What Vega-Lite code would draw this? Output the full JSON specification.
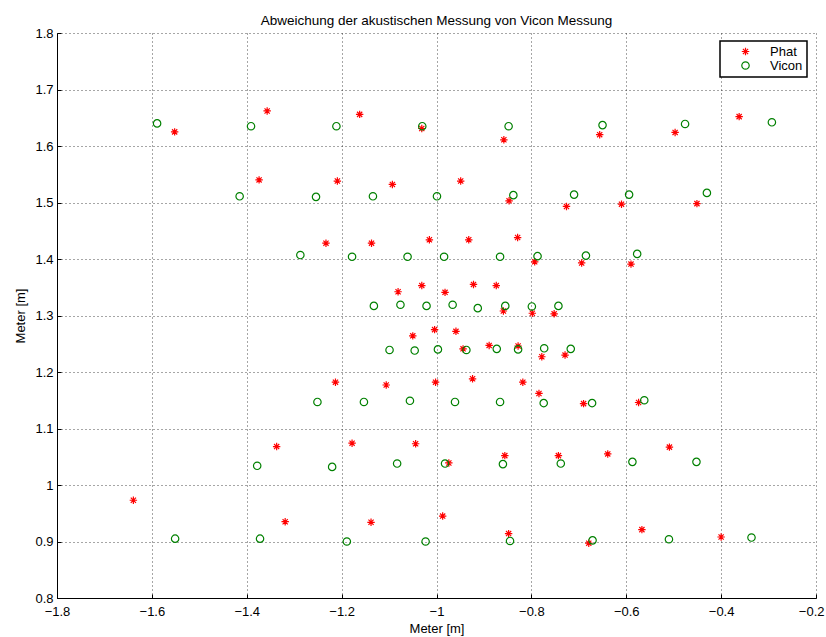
{
  "$schema": "https://vega.github.io/schema/vega-lite/v6.json",
  "width": 759,
  "height": 565,
  "autosize": "none",
  "padding": {"left": 57, "top": 33, "right": 10, "bottom": 39},
  "background": "white",
  "title": {
    "text": "Abweichung der akustischen Messung von Vicon Messung",
    "font": "Liberation Sans",
    "fontSize": 13.5,
    "fontWeight": "normal",
    "color": "black",
    "anchor": "middle",
    "offset": 0
  },
  "data": {
    "values": [
      {"x": -1.552, "y": 1.625, "series": "Phat"},
      {"x": -1.357, "y": 1.662, "series": "Phat"},
      {"x": -1.162, "y": 1.656, "series": "Phat"},
      {"x": -1.031, "y": 1.631, "series": "Phat"},
      {"x": -0.858, "y": 1.611, "series": "Phat"},
      {"x": -0.656, "y": 1.620, "series": "Phat"},
      {"x": -0.497, "y": 1.624, "series": "Phat"},
      {"x": -0.362, "y": 1.652, "series": "Phat"},
      {"x": -1.374, "y": 1.540, "series": "Phat"},
      {"x": -1.209, "y": 1.538, "series": "Phat"},
      {"x": -1.093, "y": 1.532, "series": "Phat"},
      {"x": -0.949, "y": 1.538, "series": "Phat"},
      {"x": -0.847, "y": 1.503, "series": "Phat"},
      {"x": -0.726, "y": 1.493, "series": "Phat"},
      {"x": -0.610, "y": 1.497, "series": "Phat"},
      {"x": -0.451, "y": 1.498, "series": "Phat"},
      {"x": -1.233, "y": 1.428, "series": "Phat"},
      {"x": -1.137, "y": 1.428, "series": "Phat"},
      {"x": -1.015, "y": 1.434, "series": "Phat"},
      {"x": -0.932, "y": 1.434, "series": "Phat"},
      {"x": -0.829, "y": 1.438, "series": "Phat"},
      {"x": -0.793, "y": 1.395, "series": "Phat"},
      {"x": -0.694, "y": 1.393, "series": "Phat"},
      {"x": -0.590, "y": 1.391, "series": "Phat"},
      {"x": -1.081, "y": 1.342, "series": "Phat"},
      {"x": -1.031, "y": 1.353, "series": "Phat"},
      {"x": -0.982, "y": 1.341, "series": "Phat"},
      {"x": -0.922, "y": 1.355, "series": "Phat"},
      {"x": -0.874, "y": 1.353, "series": "Phat"},
      {"x": -0.859, "y": 1.308, "series": "Phat"},
      {"x": -0.798, "y": 1.304, "series": "Phat"},
      {"x": -0.752, "y": 1.303, "series": "Phat"},
      {"x": -1.050, "y": 1.264, "series": "Phat"},
      {"x": -1.004, "y": 1.275, "series": "Phat"},
      {"x": -0.959, "y": 1.272, "series": "Phat"},
      {"x": -0.944, "y": 1.241, "series": "Phat"},
      {"x": -0.889, "y": 1.247, "series": "Phat"},
      {"x": -0.828, "y": 1.246, "series": "Phat"},
      {"x": -0.778, "y": 1.227, "series": "Phat"},
      {"x": -0.729, "y": 1.230, "series": "Phat"},
      {"x": -1.213, "y": 1.182, "series": "Phat"},
      {"x": -1.106, "y": 1.177, "series": "Phat"},
      {"x": -1.002, "y": 1.182, "series": "Phat"},
      {"x": -0.924, "y": 1.188, "series": "Phat"},
      {"x": -0.818, "y": 1.182, "series": "Phat"},
      {"x": -0.784, "y": 1.162, "series": "Phat"},
      {"x": -0.690, "y": 1.144, "series": "Phat"},
      {"x": -0.574, "y": 1.146, "series": "Phat"},
      {"x": -1.337, "y": 1.068, "series": "Phat"},
      {"x": -1.178, "y": 1.074, "series": "Phat"},
      {"x": -1.044, "y": 1.073, "series": "Phat"},
      {"x": -0.974, "y": 1.039, "series": "Phat"},
      {"x": -0.856, "y": 1.052, "series": "Phat"},
      {"x": -0.743, "y": 1.052, "series": "Phat"},
      {"x": -0.639, "y": 1.055, "series": "Phat"},
      {"x": -0.509, "y": 1.067, "series": "Phat"},
      {"x": -1.639, "y": 0.973, "series": "Phat"},
      {"x": -1.319, "y": 0.935, "series": "Phat"},
      {"x": -1.138, "y": 0.934, "series": "Phat"},
      {"x": -0.987, "y": 0.945, "series": "Phat"},
      {"x": -0.848, "y": 0.914, "series": "Phat"},
      {"x": -0.679, "y": 0.897, "series": "Phat"},
      {"x": -0.567, "y": 0.921, "series": "Phat"},
      {"x": -0.400, "y": 0.908, "series": "Phat"},

      {"x": -1.589, "y": 1.640, "series": "Vicon"},
      {"x": -1.391, "y": 1.635, "series": "Vicon"},
      {"x": -1.211, "y": 1.635, "series": "Vicon"},
      {"x": -1.030, "y": 1.635, "series": "Vicon"},
      {"x": -0.848, "y": 1.635, "series": "Vicon"},
      {"x": -0.650, "y": 1.637, "series": "Vicon"},
      {"x": -0.476, "y": 1.639, "series": "Vicon"},
      {"x": -0.293, "y": 1.642, "series": "Vicon"},
      {"x": -1.415, "y": 1.511, "series": "Vicon"},
      {"x": -1.254, "y": 1.510, "series": "Vicon"},
      {"x": -1.134, "y": 1.511, "series": "Vicon"},
      {"x": -0.999, "y": 1.511, "series": "Vicon"},
      {"x": -0.838, "y": 1.513, "series": "Vicon"},
      {"x": -0.710, "y": 1.514, "series": "Vicon"},
      {"x": -0.594, "y": 1.514, "series": "Vicon"},
      {"x": -0.430, "y": 1.517, "series": "Vicon"},
      {"x": -1.287, "y": 1.407, "series": "Vicon"},
      {"x": -1.178, "y": 1.404, "series": "Vicon"},
      {"x": -1.061, "y": 1.404, "series": "Vicon"},
      {"x": -0.984, "y": 1.404, "series": "Vicon"},
      {"x": -0.866, "y": 1.404, "series": "Vicon"},
      {"x": -0.787, "y": 1.405, "series": "Vicon"},
      {"x": -0.685, "y": 1.406, "series": "Vicon"},
      {"x": -0.577, "y": 1.409, "series": "Vicon"},
      {"x": -1.132, "y": 1.317, "series": "Vicon"},
      {"x": -1.076, "y": 1.319, "series": "Vicon"},
      {"x": -1.021, "y": 1.317, "series": "Vicon"},
      {"x": -0.966, "y": 1.319, "series": "Vicon"},
      {"x": -0.913, "y": 1.313, "series": "Vicon"},
      {"x": -0.855, "y": 1.317, "series": "Vicon"},
      {"x": -0.799, "y": 1.316, "series": "Vicon"},
      {"x": -0.743, "y": 1.317, "series": "Vicon"},
      {"x": -1.099, "y": 1.239, "series": "Vicon"},
      {"x": -1.046, "y": 1.238, "series": "Vicon"},
      {"x": -0.997, "y": 1.240, "series": "Vicon"},
      {"x": -0.937, "y": 1.239, "series": "Vicon"},
      {"x": -0.873, "y": 1.241, "series": "Vicon"},
      {"x": -0.828, "y": 1.240, "series": "Vicon"},
      {"x": -0.773, "y": 1.242, "series": "Vicon"},
      {"x": -0.717, "y": 1.241, "series": "Vicon"},
      {"x": -1.251, "y": 1.147, "series": "Vicon"},
      {"x": -1.153, "y": 1.147, "series": "Vicon"},
      {"x": -1.056, "y": 1.149, "series": "Vicon"},
      {"x": -0.961, "y": 1.147, "series": "Vicon"},
      {"x": -0.866, "y": 1.147, "series": "Vicon"},
      {"x": -0.774, "y": 1.145, "series": "Vicon"},
      {"x": -0.672, "y": 1.145, "series": "Vicon"},
      {"x": -0.562, "y": 1.150, "series": "Vicon"},
      {"x": -1.378, "y": 1.034, "series": "Vicon"},
      {"x": -1.220, "y": 1.032, "series": "Vicon"},
      {"x": -1.083, "y": 1.038, "series": "Vicon"},
      {"x": -0.982, "y": 1.038, "series": "Vicon"},
      {"x": -0.860, "y": 1.037, "series": "Vicon"},
      {"x": -0.738, "y": 1.038, "series": "Vicon"},
      {"x": -0.587, "y": 1.041, "series": "Vicon"},
      {"x": -0.452, "y": 1.041, "series": "Vicon"},
      {"x": -1.551, "y": 0.905, "series": "Vicon"},
      {"x": -1.372, "y": 0.905, "series": "Vicon"},
      {"x": -1.189, "y": 0.900, "series": "Vicon"},
      {"x": -1.023, "y": 0.900, "series": "Vicon"},
      {"x": -0.845, "y": 0.901, "series": "Vicon"},
      {"x": -0.671, "y": 0.902, "series": "Vicon"},
      {"x": -0.510, "y": 0.904, "series": "Vicon"},
      {"x": -0.336, "y": 0.907, "series": "Vicon"}
    ]
  },
  "mark": {"type": "point", "filled": false, "strokeWidth": 1.2, "size": 55, "opacity": 1},
  "encoding": {
    "x": {
      "field": "x",
      "type": "quantitative",
      "title": "Meter [m]",
      "scale": {"domain": [-1.8, -0.2], "nice": false, "zero": false},
      "axis": {
        "values": [-1.8, -1.6, -1.4, -1.2, -1.0, -0.8, -0.6, -0.4, -0.2],
        "format": "~g",
        "labelFlush": false,
        "labelAlign": {"condition": {"test": "datum.value > -0.25", "value": "right"}, "value": "center"},
        "labelOffset": {"condition": {"test": "datum.value > -0.25", "value": 8}, "value": 0},
        "labelPadding": 11,
        "titlePadding": 4
      }
    },
    "y": {
      "field": "y",
      "type": "quantitative",
      "title": "Meter [m]",
      "scale": {"domain": [0.8, 1.8], "nice": false, "zero": false},
      "axis": {
        "values": [0.8, 0.9, 1.0, 1.1, 1.2, 1.3, 1.4, 1.5, 1.6, 1.7, 1.8],
        "format": "~g",
        "labelFlush": false,
        "labelPadding": 8,
        "titlePadding": 7
      }
    },
    "color": {
      "field": "series",
      "type": "nominal",
      "scale": {"domain": ["Phat", "Vicon"], "range": ["#ff0000", "#008000"]},
      "legend": {"title": null}
    },
    "shape": {
      "field": "series",
      "type": "nominal",
      "scale": {
        "domain": ["Phat", "Vicon"],
        "range": ["M-1,0L1,0M0,-1L0,1M-0.7,-0.7L0.7,0.7M-0.7,0.7L0.7,-0.7", "circle"]
      },
      "legend": {"title": null}
    }
  },
  "config": {
    "view": {"stroke": null},
    "axis": {
      "labelFont": "Liberation Sans",
      "labelFontSize": 13,
      "labelColor": "black",
      "titleFont": "Liberation Sans",
      "titleFontSize": 13,
      "titleFontWeight": "normal",
      "titleColor": "black",
      "domainColor": "black",
      "domainWidth": 1,
      "tickColor": "black",
      "tickSize": -4,
      "tickWidth": 1,
      "grid": true,
      "gridColor": "black",
      "gridOpacity": 0.7,
      "gridDash": [1, 3],
      "gridWidth": 1
    },
    "legend": {
      "orient": "none",
      "legendX": 663,
      "legendY": 8,
      "strokeColor": "black",
      "strokeWidth": 1.5,
      "fillColor": "white",
      "padding": 4,
      "symbolOffset": 15,
      "labelOffset": 18,
      "labelFont": "Liberation Sans",
      "labelFontSize": 13,
      "labelColor": "black",
      "rowPadding": 0,
      "symbolSize": 55,
      "symbolStrokeWidth": 1.2
    }
  }
}
